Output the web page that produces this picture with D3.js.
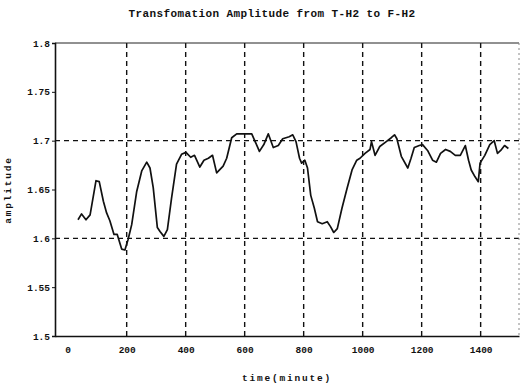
<!DOCTYPE html>
<html>
<head>
<meta charset="utf-8">
<script src="https://cdn.jsdelivr.net/npm/d3@7"></script>
<style>
  body { margin: 0; background: #fff; }
  svg { display: block; }
  text { font-family: "Liberation Mono", "DejaVu Sans Mono", monospace; font-weight: bold; fill: #111; }
</style>
</head>
<body>
<svg width="520" height="385"></svg>
<script>
// trace
const minutes = [35, 47, 62, 76, 96, 107, 121, 132, 143, 157, 168, 183, 194, 205, 217, 234, 251, 268, 279, 290,
  304, 313, 326, 338, 352, 369, 386, 401, 417, 430, 448, 462, 477, 491, 505, 527, 539, 556, 573, 601,
  624, 650, 665, 680, 697, 714, 729, 751, 763, 774, 786, 793, 804, 813, 824, 836, 847, 863, 880, 891,
  902, 914, 930, 947, 964, 980, 991, 1008, 1025, 1030, 1042, 1058, 1080, 1097, 1108, 1116, 1131, 1153, 1164, 1175,
  1192, 1203, 1220, 1237, 1250, 1264, 1281, 1297, 1314, 1331, 1348, 1359, 1368, 1381, 1392, 1398, 1414, 1431, 1446, 1457,
  1468, 1481, 1494];
const amplitude = [1.619, 1.625, 1.619, 1.624, 1.659, 1.658, 1.638, 1.626, 1.618, 1.604, 1.604, 1.589, 1.588, 1.599, 1.614, 1.648, 1.669, 1.678, 1.672, 1.652,
  1.611, 1.607, 1.602, 1.609, 1.641, 1.676, 1.686, 1.688, 1.683, 1.685, 1.673, 1.680, 1.682, 1.685, 1.667, 1.674, 1.682, 1.703, 1.707, 1.707,
  1.707, 1.689, 1.696, 1.707, 1.693, 1.695, 1.702, 1.704, 1.706, 1.699, 1.682, 1.677, 1.680, 1.672, 1.644, 1.631, 1.617, 1.615, 1.617, 1.612,
  1.606, 1.610, 1.631, 1.651, 1.670, 1.680, 1.682, 1.687, 1.691, 1.699, 1.685, 1.694, 1.699, 1.703, 1.706, 1.702, 1.684, 1.672, 1.682, 1.693,
  1.695, 1.696, 1.690, 1.680, 1.678, 1.687, 1.691, 1.689, 1.685, 1.685, 1.695, 1.680, 1.670, 1.663, 1.658, 1.677, 1.685, 1.696, 1.700, 1.687,
  1.690, 1.695, 1.692];

const xTicks = [0, 200, 400, 600, 800, 1000, 1200, 1400];
const yTicks = [1.5, 1.55, 1.6, 1.65, 1.7, 1.75, 1.8];
const xGrid = [200, 400, 600, 800, 1000, 1200, 1400];
const yGrid = [1.6, 1.7];

const svg = d3.select("svg");
const mLeft = 55, mRight = 519, mTop = 43, mBottom = 336;

const x = d3.scaleLinear().domain([-43, 1530]).range([mLeft, mRight]);
const y = d3.scaleLinear().domain([1.5, 1.8]).range([mBottom, mTop]);

// grid
svg.append("g")
  .selectAll("line")
  .data(xGrid)
  .join("line")
  .attr("x1", d => x(d)).attr("x2", d => x(d))
  .attr("y1", mTop).attr("y2", mBottom)
  .attr("stroke", "#111")
  .attr("stroke-width", 1.4)
  .attr("stroke-dasharray", "5,4");

svg.append("g")
  .selectAll("line")
  .data(yGrid)
  .join("line")
  .attr("x1", mLeft).attr("x2", mRight)
  .attr("y1", d => y(d)).attr("y2", d => y(d))
  .attr("stroke", "#111")
  .attr("stroke-width", 1.4)
  .attr("stroke-dasharray", "5,4");

// frame: top thin, right faint
svg.append("line")
  .attr("x1", mLeft).attr("x2", mRight)
  .attr("y1", mTop).attr("y2", mTop)
  .attr("stroke", "#222").attr("stroke-width", 1);
svg.append("line")
  .attr("x1", mRight).attr("x2", mRight)
  .attr("y1", mTop).attr("y2", mBottom)
  .attr("stroke", "#888").attr("stroke-width", 1)
  .attr("stroke-dasharray", "2,3");

// axes
const xAxis = svg.append("g")
  .attr("transform", `translate(0,${mBottom})`)
  .call(d3.axisBottom(x).tickValues(xTicks).tickSize(0).tickPadding(10).tickFormat(d3.format("d")));
const yAxis = svg.append("g")
  .attr("transform", `translate(${mLeft},0)`)
  .call(d3.axisLeft(y).tickValues(yTicks).tickSize(3).tickPadding(2).tickFormat(d => String(d)));

[xAxis, yAxis].forEach(g => {
  g.select(".domain").attr("stroke", "#111").attr("stroke-width", 1.6);
  g.selectAll(".tick line").attr("stroke", "#111");
  g.selectAll(".tick text")
    .style("font-size", "9.5px")
    .style("font-family", "Liberation Mono, monospace")
    .style("font-weight", "bold")
    .attr("fill", "#111");
});

// trace
const line = d3.line()
  .x((d, i) => x(minutes[i]))
  .y(d => y(d));

svg.append("path")
  .datum(amplitude)
  .attr("d", line)
  .attr("fill", "none")
  .attr("stroke", "#111")
  .attr("stroke-width", 1.7)
  .attr("stroke-linejoin", "round");

// labels
svg.append("text")
  .attr("x", 272).attr("y", 17)
  .attr("text-anchor", "middle")
  .style("font-size", "11px")
  .style("letter-spacing", "0.4px")
  .text("Transfomation Amplitude from T-H2 to F-H2");

svg.append("text")
  .attr("x", 287).attr("y", 381)
  .attr("text-anchor", "middle")
  .style("font-size", "9.5px")
  .style("letter-spacing", "1.8px")
  .text("time(minute)");

svg.append("text")
  .attr("transform", "translate(11,190) rotate(-90)")
  .attr("text-anchor", "middle")
  .style("font-size", "9.5px")
  .style("letter-spacing", "1.8px")
  .text("amplitude");
</script>
</body>
</html>
